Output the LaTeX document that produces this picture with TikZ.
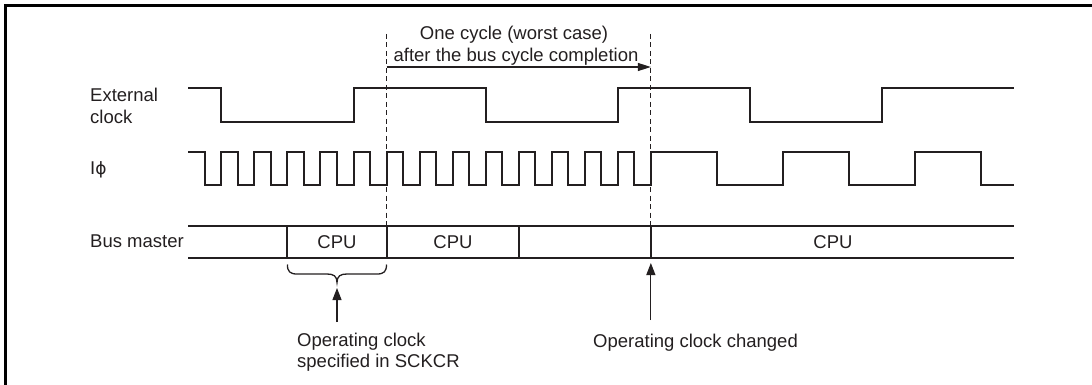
\documentclass[tikz,border=0pt]{standalone}
\usepackage{fontspec}
\setmainfont{Liberation Sans}
\newfontfamily\phifont{DejaVu Sans}
\usetikzlibrary{arrows.meta}
\definecolor{ink}{RGB}{35,31,32}
\begin{document}
\begin{tikzpicture}[x=1pt,y=-1pt,
  lbl/.style={font=\fontsize{18.5}{21}\selectfont, inner sep=0pt, text=ink},
  wave/.style={draw=ink, line width=2pt},
  guide/.style={draw=ink, line width=1pt, dash pattern=on 5pt off 3.5pt},
  pointer/.style={draw=ink, line width=1.1pt, -{Triangle[length=12pt,width=9pt]}},
  spanarrow/.style={draw=ink, line width=1.1pt, -{Triangle[length=13pt,width=8pt]}},
  bracepath/.style={draw=ink, line width=1.3pt},
  frame/.style={draw=black, line width=2.2pt}]
\useasboundingbox (0,0) rectangle (1092,385);
\def\xo{188.3}
\def\pu{16.52}
% frame (cut at right and bottom)
\draw[frame] (5.5,386) -- (5.5,5.5) -- (1093,5.5);
% dashed guides
\draw[guide] ({\xo+12*\pu},34) -- ({\xo+12*\pu},225.7);
\draw[guide] ({\xo+28*\pu},34) -- ({\xo+28*\pu},225.7);
% external clock
\draw[wave] (\xo,88.3) -- ({\xo+2*\pu},88.3) -- ({\xo+2*\pu},121.7)
  -- ({\xo+10*\pu},121.7) -- ({\xo+10*\pu},88.3)
  -- ({\xo+18*\pu},88.3) -- ({\xo+18*\pu},121.7)
  -- ({\xo+26*\pu},121.7) -- ({\xo+26*\pu},88.3)
  -- ({\xo+34*\pu},88.3) -- ({\xo+34*\pu},121.7)
  -- ({\xo+42*\pu},121.7) -- ({\xo+42*\pu},88.3)
  -- ({\xo+50*\pu},88.3);
% I phi
\draw[wave] (\xo,152.3)
  \foreach \k in {0,...,13} {
    -- ({\xo+(2*\k+1)*\pu},152.3) -- ({\xo+(2*\k+1)*\pu},185)
    -- ({\xo+(2*\k+2)*\pu},185) -- ({\xo+(2*\k+2)*\pu},152.3)
  }
  -- ({\xo+32*\pu},152.3) -- ({\xo+32*\pu},185)
  -- ({\xo+36*\pu},185) -- ({\xo+36*\pu},152.3)
  -- ({\xo+40*\pu},152.3) -- ({\xo+40*\pu},185)
  -- ({\xo+44*\pu},185) -- ({\xo+44*\pu},152.3)
  -- ({\xo+48*\pu},152.3) -- ({\xo+48*\pu},185)
  -- ({\xo+50*\pu},185);
% bus master
\draw[wave] (\xo,225.7) -- ({\xo+50*\pu},225.7);
\draw[wave] (\xo,258.3) -- ({\xo+50*\pu},258.3);
\foreach \d in {6,12,20,28}
  \draw[wave] ({\xo+\d*\pu},225.7) -- ({\xo+\d*\pu},258.3);
% brace
\draw[bracepath] (287.4,264.5) .. controls (287.4,271.5) and (290,274) .. (297,274)
  -- (327,274) .. controls (333.5,274) and (337,276) .. (337,282.5)
  .. controls (337,276) and (340.5,274) .. (347,274)
  -- (377,274) .. controls (384,274) and (386.5,271.5) .. (386.5,264.5);
% labels
\node[lbl, anchor=base west] (ext1) at (90,102) {External};
\node[lbl, anchor=base west] (ext2) at (90,124) {clock};
\node[lbl, anchor=base west] (iphi) at (90,175) {I{\phifont\fontsize{17}{20}\selectfont ϕ}};
\node[lbl, anchor=base west] (bus) at (90,247) {Bus master};
\node[lbl, anchor=base] (cpu1) at (337,248) {CPU};
\node[lbl, anchor=base] (cpu2) at (453,248) {CPU};
\node[lbl, anchor=base] (cpu3) at (833,248) {CPU};
\node[lbl, anchor=base] (cyc1) at (514,40) {One cycle (worst case)};
\node[lbl, anchor=base] (cyc2) at (516,62) {after the bus cycle completion};
\node[lbl, anchor=base west] (op1) at (297,346) {Operating clock};
\node[lbl, anchor=base west] (op2) at (297,367) {specified in SCKCR};
\node[lbl, anchor=base west] (chg) at (593,347) {Operating clock changed};
% connectors
\coordinate (cycS) at ({\xo+12*\pu},67);
\coordinate (cycE) at ({\xo+28*\pu},67);
\draw[spanarrow] (cycS) -- (cycE);
\coordinate (opS) at (337,322);
\coordinate (opE) at (337,288);
\draw[pointer] (opS) -- (opE);
\coordinate (chS) at ({\xo+28*\pu},320);
\coordinate (chE) at ({\xo+28*\pu},263);
\draw[pointer] (chS) -- (chE);
\end{tikzpicture}
\end{document}
